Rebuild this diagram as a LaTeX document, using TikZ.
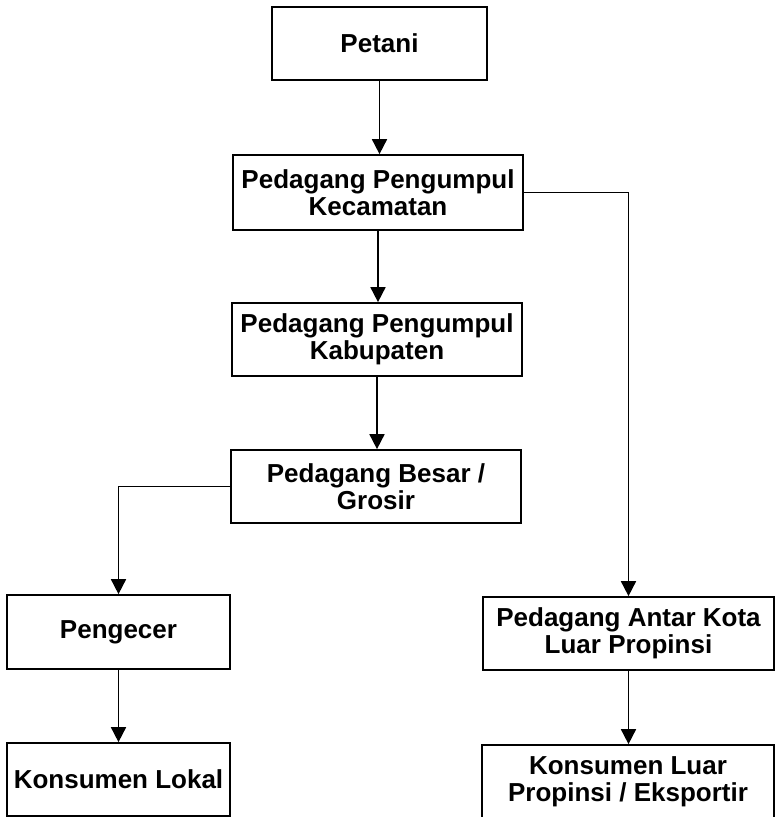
\documentclass[tikz,border=0pt]{standalone}
\usepackage{fontspec}
\setmainfont{Liberation Sans}
\usetikzlibrary{arrows.meta}
\tikzset{
  box/.style={draw, line width=1.7pt, inner sep=0pt, align=center,
    font=\fontsize{26}{26.5}\selectfont\bfseries},
  conn/.style={line width=1.7pt, -{Triangle[length=15pt,width=15pt]}}
}
\begin{document}
\begin{tikzpicture}[x=1pt,y=-1pt]
\useasboundingbox (0,0) rectangle (775,817);
\node[box, minimum width=215pt, minimum height=73pt] (petani) at (379.5,43.5) {Petani};
\node[box, minimum width=290pt, minimum height=75pt] (kec) at (378,192.5) {Pedagang Pengumpul\\Kecamatan};
\node[box, minimum width=290pt, minimum height=73pt] (kab) at (377,339.5) {Pedagang Pengumpul\\Kabupaten};
\node[box, minimum width=290pt, minimum height=73pt] (besar) at (376,486.5) {Pedagang Besar /\\Grosir};
\node[box, minimum width=223pt, minimum height=74pt] (ecer) at (118.5,632) {Pengecer};
\node[box, minimum width=223pt, minimum height=73pt] (lokal) at (118.5,779.5) {Konsumen Lokal};
\node[box, minimum width=291pt, minimum height=73pt] (antar) at (628.5,633.5) {Pedagang Antar Kota\\Luar Propinsi};
\node[box, minimum width=292pt, minimum height=73pt] (luar) at (628,781.5) {Konsumen Luar\\Propinsi / Eksportir};
\draw[conn] (petani.south) -- (petani.south |- kec.north);
\draw[conn] (kec.south) -- (kec.south |- kab.north);
\draw[conn] (kab.south) -- (kab.south |- besar.north);
\draw[conn] (kec.east) -| (antar.north);
\draw[conn] (besar.west) -| (ecer.north);
\draw[conn] (ecer.south) -- (ecer.south |- lokal.north);
\draw[conn] (antar.south) -- (antar.south |- luar.north);
\end{tikzpicture}
\end{document}
